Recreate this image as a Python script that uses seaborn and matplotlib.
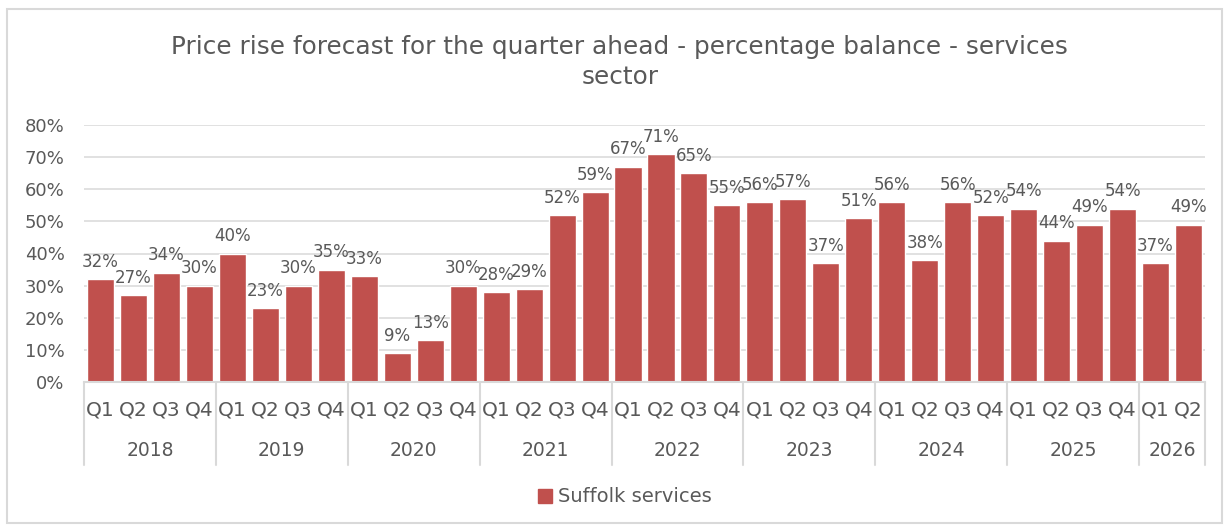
import matplotlib
matplotlib.use("Agg")
import matplotlib.pyplot as plt
import matplotlib.transforms as mtransforms
from matplotlib.patches import Rectangle, Patch
import pandas as pd
import seaborn as sns

# Quarterly price-rise balance, Suffolk services (%)
years = ["2018", "2019", "2020", "2021", "2022", "2023", "2024", "2025", "2026"]
quarters_per_year = [4, 4, 4, 4, 4, 4, 4, 4, 2]
quarter_names = ["Q1", "Q2", "Q3", "Q4"]
values = [32, 27, 34, 30,
          40, 23, 30, 35,
          33, 9, 13, 30,
          28, 29, 52, 59,
          67, 71, 65, 55,
          56, 57, 37, 51,
          56, 38, 56, 52,
          54, 44, 49, 54,
          37, 49]
y_ticks = [0, 10, 20, 30, 40, 50, 60, 70, 80]
series_name = "Suffolk services"
title = "Price rise forecast for the quarter ahead - percentage balance - services\nsector"

rows = []
for yr, n in zip(years, quarters_per_year):
    for q in quarter_names[:n]:
        rows.append({"year": yr, "quarter": q, "slot": f"{yr} {q}"})
df = pd.DataFrame(rows)
df["value"] = values

BAR = "#C0504D"
TXT = "#595959"
GRID = "#D9D9D9"

sns.set_theme(style="white")
plt.rcParams["font.family"] = ["DejaVu Sans"]

fig = plt.figure(figsize=(12.3, 5.31), dpi=100)
ax = fig.add_axes([84 / 1230, 1 - 382 / 531, (1205 - 84) / 1230, (382 - 125) / 531])

sns.barplot(data=df, x="slot", y="value", color=BAR, saturation=1,
            width=0.82, ax=ax, order=list(df["slot"]))

ax.set_ylim(0, 80)
ax.set_xlim(-0.5, len(df) - 0.5)
ax.set_yticks(y_ticks)
ax.set_yticklabels([f"{t}%" for t in y_ticks], fontsize=13, color=TXT)
ax.yaxis.grid(True, color=GRID, linewidth=1.1)
ax.set_axisbelow(True)
for s in ["top", "right", "left"]:
    ax.spines[s].set_visible(False)
ax.spines["bottom"].set_color(GRID)
ax.spines["bottom"].set_linewidth(1.5)
ax.tick_params(axis="y", length=0, pad=14)
ax.tick_params(axis="x", length=0, pad=13)
ax.set_xticks(range(len(df)))
ax.set_xticklabels(df["quarter"], fontsize=14.5, color=TXT)
ax.set_xlabel("")
ax.set_ylabel("")

ax.bar_label(ax.containers[0], labels=[f"{v}%" for v in df["value"]],
             padding=6, fontsize=12, color=TXT)

# Year group labels and separators under the quarter labels
trans = mtransforms.blended_transform_factory(ax.transData, ax.transAxes)
sep_bottom = -(465 - 382) / 257
year_y = -(451 - 382) / 257
start = 0
bounds = [-0.5]
for yr, n in zip(years, quarters_per_year):
    mid = start + (n - 1) / 2
    ax.text(mid, year_y, yr, transform=trans, ha="center", va="center",
            fontsize=13.5, color=TXT)
    start += n
    bounds.append(start - 0.5)
for b in bounds:
    ax.plot([b, b], [0, sep_bottom], transform=trans, color=GRID,
            linewidth=1.5, clip_on=False)

fig.text(0.504, 1 - 62 / 531, title, ha="center", va="center",
         fontsize=17.8, color=TXT, linespacing=1.3)

fig.legend(handles=[Patch(color=BAR, label=series_name)],
           loc="center", bbox_to_anchor=(0.508, 1 - 497 / 531), frameon=False,
           fontsize=14, labelcolor=TXT, handlelength=0.7, handleheight=0.7,
           handletextpad=0.3)

fig.patches.append(Rectangle((7 / 1230, 1 - 523 / 531), (1222 - 7) / 1230,
                             (523 - 9) / 531, transform=fig.transFigure,
                             fill=False, edgecolor=GRID, linewidth=1.5))

fig.savefig("out.png", dpi=100, facecolor="white")
